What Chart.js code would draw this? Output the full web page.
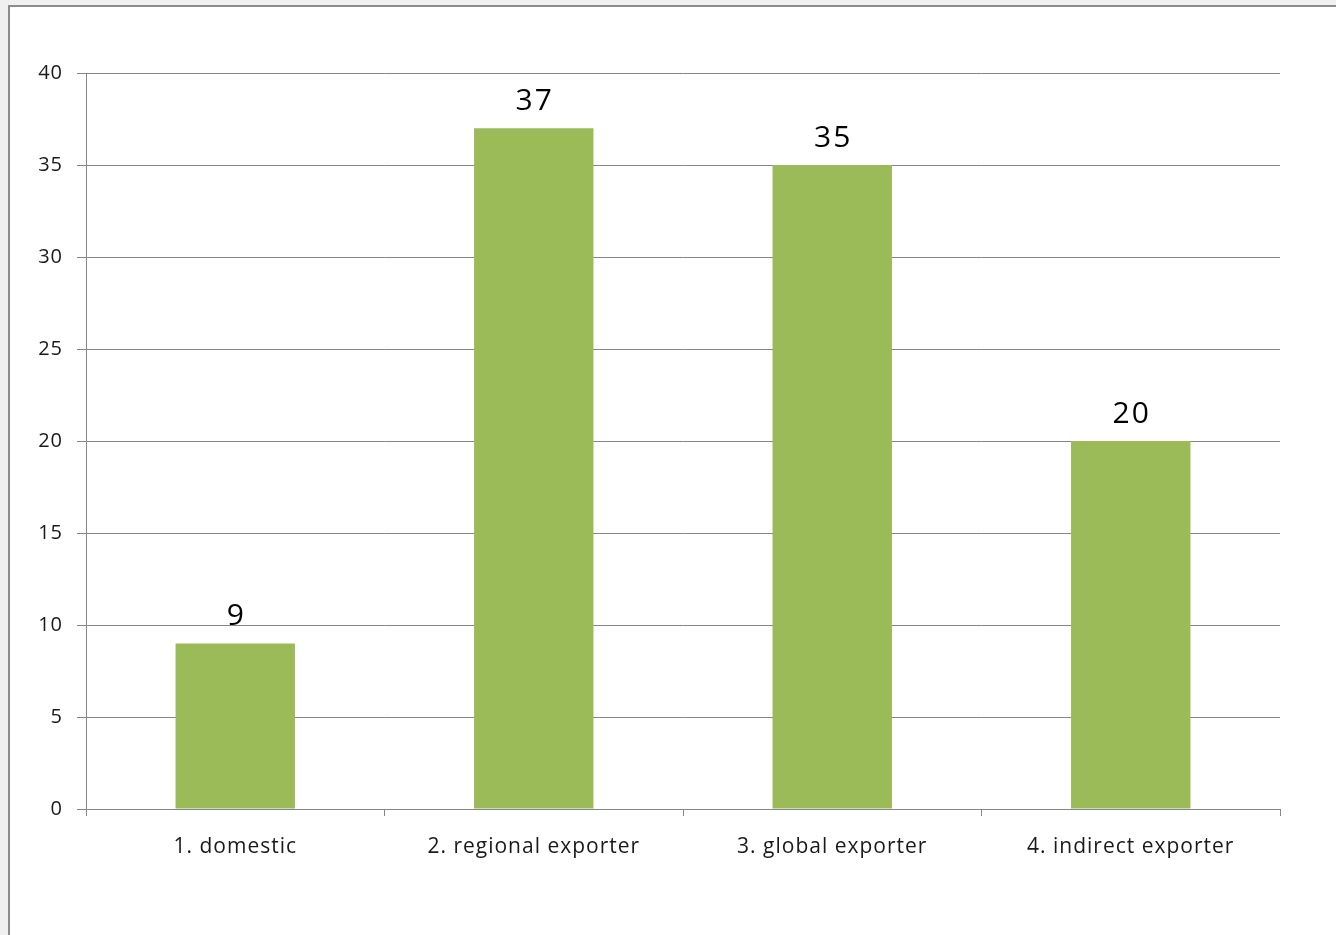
<!DOCTYPE html>
<html>
<head>
<meta charset="utf-8">
<script src="https://cdn.jsdelivr.net/npm/chart.js@4"></script>
<style>
  html, body { margin: 0; padding: 0; background: #f0f0f0; overflow: hidden; }
  #frame {
    position: absolute; left: 8px; top: 5px;
    width: 1340px; height: 940px;
    background: #fff; border: 2px solid #8c8c8c;
  }
  #wrap { position: absolute; left: 0; top: 0; width: 1326px; height: 928px; }
</style>
</head>
<body>
<div id="frame"><div id="wrap"><canvas id="chart"></canvas></div></div>
<script>
// categories and counts
const categories = ['1. domestic', '2. regional exporter', '3. global exporter', '4. indirect exporter'];
const counts = [9, 37, 35, 20];
const yTicks = [0, 5, 10, 15, 20, 25, 30, 35, 40];

const AXIS_GREY = '#868686';
const TEXT = '#1a1a1a';
const FONT = '"Open Sans", "Noto Sans", sans-serif';

// slightly looser text for the axis labels
const spacing = {
  id: 'spacing',
  beforeDraw(chart) { chart.ctx.letterSpacing = '1px'; }
};

// value labels above each bar
const barLabels = {
  id: 'barLabels',
  afterDatasetsDraw(chart) {
    const ctx = chart.ctx;
    const meta = chart.getDatasetMeta(0);
    ctx.save();
    ctx.fillStyle = '#000';
    ctx.font = '30px ' + FONT;
    ctx.letterSpacing = '2px';
    ctx.textAlign = 'center';
    ctx.textBaseline = 'alphabetic';
    meta.data.forEach((bar, i) => {
      ctx.fillText(String(chart.data.datasets[0].data[i]), bar.x + 1, bar.y - 18);
    });
    ctx.restore();
  }
};

new Chart(document.getElementById('chart'), {
  type: 'bar',
  data: {
    labels: categories,
    datasets: [{
      data: counts,
      backgroundColor: '#9bbb59',
      borderWidth: 0,
      categoryPercentage: 1,
      barPercentage: 0.4,
    }]
  },
  options: {
    responsive: true,
    maintainAspectRatio: false,
    animation: false,
    layout: { padding: { left: 0, right: 56, top: 66, bottom: 0 } },
    plugins: { legend: { display: false }, tooltip: { enabled: false } },
    scales: {
      x: {
        afterFit: (s) => { s.height = 126; },
        grid: { drawOnChartArea: false, drawTicks: true, tickLength: 7, color: AXIS_GREY, offset: true },
        border: { display: true, color: AXIS_GREY, width: 1 },
        ticks: { color: TEXT, font: { family: FONT, size: 21 }, padding: 18 },
      },
      y: {
        min: 0, max: 40,
        afterFit: (s) => { s.width = 76; },
        afterBuildTicks: (s) => { s.ticks = yTicks.map(v => ({ value: v })); },
        grid: { color: AXIS_GREY, tickLength: 9, lineWidth: 1 },
        border: { display: true, color: AXIS_GREY, width: 1 },
        ticks: { color: TEXT, font: { family: FONT, size: 20 }, padding: 14 },
      }
    }
  },
  plugins: [spacing, barLabels]
});
</script>
</body>
</html>
